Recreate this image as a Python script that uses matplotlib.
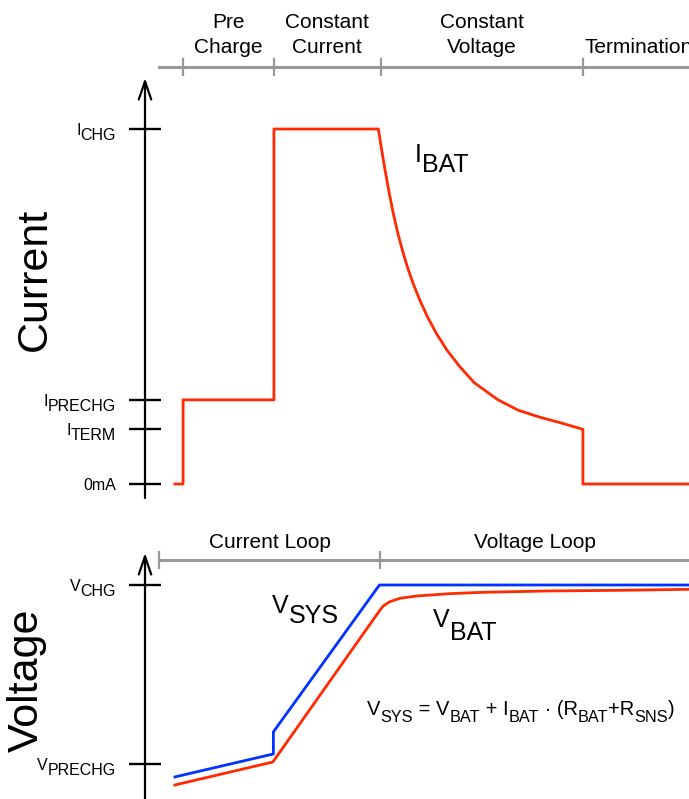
import matplotlib
matplotlib.use('Agg')
import matplotlib.pyplot as plt
import matplotlib.transforms as mtransforms

plt.rcParams['font.family'] = ['Liberation Sans', 'DejaVu Sans']

# ---------------- data ----------------
phase_names = ['Pre\nCharge', 'Constant\nCurrent', 'Constant\nVoltage', 'Termination']
phase_bounds = [7.0, 23.7, 43.3, 80.5]          # time (a.u.)
loop_names = ['Current Loop', 'Voltage Loop']
loop_bounds = [2.6, 43.2]

cur_levels = [0.0, 0.155, 0.237, 1.0]
cur_tick_labels = [[('0mA', False)],
                   [('I', False), ('TERM', True)],
                   [('I', False), ('PRECHG', True)],
                   [('I', False), ('CHG', True)]]

t_ibat = [5.5, 7.0, 7.0, 23.7, 23.7, 42.9, 43.42, 44.12, 44.89, 45.63, 46.47,
          47.30, 48.24, 49.26, 50.51, 51.95, 53.53, 55.51, 57.90, 60.55, 64.9,
          68.6, 72.4, 76.5, 80.5, 80.5, 100.0]
i_bat = [0.0, 0.0, 0.237, 0.237, 1.0, 1.0, 0.949, 0.885, 0.820, 0.763, 0.707,
         0.659, 0.611, 0.566, 0.518, 0.470, 0.425, 0.377, 0.330, 0.285, 0.237,
         0.208, 0.189, 0.172, 0.154, 0.0, 0.0]

volt_levels = [3.0, 4.2]
volt_tick_labels = [[('V', False), ('PRECHG', True)],
                    [('V', False), ('CHG', True)]]

t_vsys = [5.5, 23.6, 23.6, 43.1, 100.0]
v_sys = [2.913, 3.067, 3.215, 4.2, 4.2]

t_vbat = [5.5, 23.5, 43.2, 43.8, 45.0, 46.9, 49.9, 56.1, 62.1, 74.4, 86.7, 100.0]
v_bat = [2.859, 3.013, 4.032, 4.059, 4.088, 4.111, 4.126, 4.142, 4.151, 4.160,
         4.164, 4.171]

RED = '#ff2a00'
BLUE = '#0033ff'
GRAY = '#999999'

# ---------------- layout ----------------
W, H, DPI = 689, 799, 100
fig = plt.figure(figsize=(W / DPI, H / DPI), dpi=DPI)
px = mtransforms.Affine2D().scale(1 / W, -1 / H).translate(0, 1) + fig.transFigure


def axes_px(left, top, right, bottom):
    return fig.add_axes([left / W, 1 - bottom / H, (right - left) / W, (bottom - top) / H])


ax1 = axes_px(145, 78, 689, 498)
ax2 = axes_px(145, 553, 689, 799)
ax1.set_xlim(0, 100)
ax1.set_ylim(-0.0394, 1.1437)
ax2.set_xlim(0, 100)
ax2.set_ylim(2.765, 4.4145)

for ax in (ax1, ax2):
    ax.patch.set_visible(False)
    for s in ax.spines.values():
        s.set_visible(False)
    ax.set_xticks([])
    ax.tick_params(axis='y', direction='inout', length=23, width=1.7,
                   color='black', labelleft=False)
    ax.annotate('', xy=(0, 1), xytext=(0, 0), xycoords='axes fraction',
                arrowprops=dict(arrowstyle='->,head_length=1.3,head_width=0.45',
                                lw=1.6, color='black', shrinkA=0, shrinkB=0))

ax1.set_yticks(cur_levels)
ax2.set_yticks(volt_levels)

ax1.plot(t_ibat, i_bat, color=RED, lw=2.0, solid_joinstyle='round', clip_on=False)
ax2.plot(t_vsys, v_sys, color=BLUE, lw=2.0, clip_on=False)
ax2.plot(t_vbat, v_bat, color=RED, lw=2.0, clip_on=False)


def rich(x, y, parts, size, sub_size, drop, ha='left', transform=None):
    """Text with subscripts; x, y in figure px, y = baseline of main text."""
    transform = transform if transform is not None else px
    seq = parts if ha == 'left' else parts[::-1]
    prev, prev_sub = None, False
    for s, is_sub in seq:
        fs = sub_size if is_sub else size
        if prev is None:
            yy = y + (drop if is_sub else 0)
            prev = ax1.annotate(s, xy=(x, yy), xycoords=transform, fontsize=fs,
                                ha=ha, va='baseline', annotation_clip=False)
        else:
            dy = 0
            if is_sub and not prev_sub:
                dy = -drop
            elif prev_sub and not is_sub:
                dy = drop
            anchor = (1, 0) if ha == 'left' else (0, 0)
            prev = ax1.annotate(s, xy=anchor, xycoords=prev, xytext=(0, dy * 72 / DPI),
                                textcoords='offset points', fontsize=fs, ha=ha,
                                va='bottom', annotation_clip=False)
        prev_sub = is_sub


def data_to_px_y(ax, v):
    return H - ax.transData.transform((0, v))[1]


# tick labels
fig.canvas.draw()
for lev, parts in zip(cur_levels, cur_tick_labels):
    y = data_to_px_y(ax1, lev)
    rich(116, y + 6, parts, 11.5, 11.5, 5, ha='right')
for lev, parts in zip(volt_levels, volt_tick_labels):
    y = data_to_px_y(ax2, lev)
    rich(116, y + 6, parts, 11.5, 11.5, 5, ha='right')

# phase bar
bt1 = mtransforms.blended_transform_factory(ax1.transData, px)
ax1.plot([loop_bounds[0], 100], [67, 67], color=GRAY, lw=2.2, transform=bt1, clip_on=False)
for b in phase_bounds:
    ax1.plot([b, b], [59, 75], color=GRAY, lw=1.6, transform=bt1, clip_on=False)
edges = phase_bounds + [None]
for k, name in enumerate(phase_names):
    lines = name.split('\n')
    if edges[k + 1] is None:
        xc, ha = edges[k] + 0.3, 'left'
    else:
        xc, ha = (edges[k] + edges[k + 1]) / 2, 'center'
    for j, ln in enumerate(lines):
        yb = 53 - 25 * (len(lines) - 1 - j)
        ax1.text(xc, yb, ln, transform=bt1, ha=ha, va='baseline', fontsize=15,
                 clip_on=False)

# loop bar
bt2 = mtransforms.blended_transform_factory(ax2.transData, px)
ax2.plot([loop_bounds[0], 100], [560, 560], color=GRAY, lw=2.2, transform=bt2, clip_on=False)
for b in loop_bounds:
    ax2.plot([b, b], [552, 568], color=GRAY, lw=1.6, transform=bt2, clip_on=False)
loop_edges = loop_bounds + [100]
for k, name in enumerate(loop_names):
    xc = (loop_edges[k] + loop_edges[k + 1]) / 2
    ax2.text(xc, 548, name, transform=bt2, ha='center', va='baseline', fontsize=15,
             clip_on=False)

# axis titles
fig.text(35 / W, 1 - 279 / H, 'Current', rotation=90, ha='center', va='center', fontsize=31)
fig.text(27 / W, 1 - 680 / H, 'Voltage', rotation=90, ha='center', va='center', fontsize=31)

# curve labels
rich(415, 162, [('I', False), ('BAT', True)], 18, 18, 10)
rich(272, 613, [('V', False), ('SYS', True)], 18, 18, 10)
rich(433, 627, [('V', False), ('BAT', True)], 18, 18, 13)
rich(367, 715, [('V', False), ('SYS', True), (' = V', False), ('BAT', True),
                (' + I', False), ('BAT', True), (' \u00b7 (R', False), ('BAT', True),
                ('+R', False), ('SNS', True), (')', False)], 14.5, 11.7, 6)

fig.savefig('out.png', dpi=DPI)
